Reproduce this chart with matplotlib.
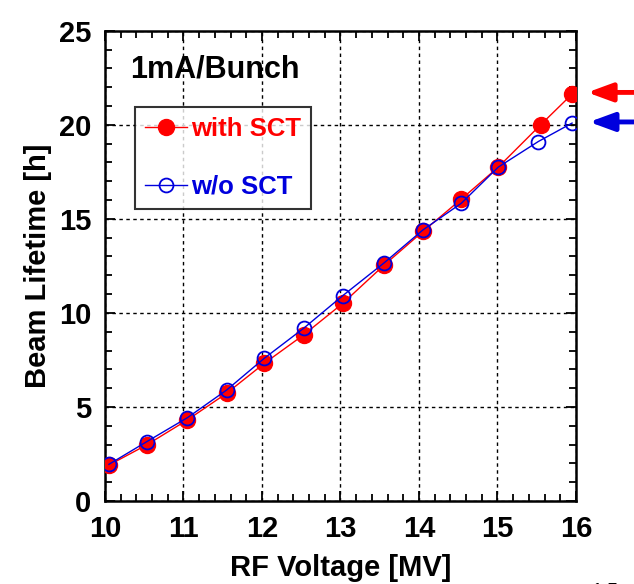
import numpy as np
import matplotlib
matplotlib.use("Agg")
import matplotlib.pyplot as plt
from matplotlib.ticker import MultipleLocator

plt.rcParams['font.family'] = ['Liberation Sans', 'DejaVu Sans']
plt.rcParams['font.weight'] = 'bold'

# RF voltage [MV]
v_with = [10.05, 10.53, 11.05, 11.55, 12.03, 12.53, 13.03, 13.55, 14.05, 14.54, 15.01, 15.55, 15.95]
v_wo = [10.05, 10.53, 11.05, 11.55, 12.03, 12.53, 13.03, 13.55, 14.05, 14.54, 15.01, 15.52, 15.95]
# beam lifetime [h]
life_with = [1.91, 2.98, 4.31, 5.73, 7.32, 8.83, 10.51, 12.52, 14.33, 16.05, 17.75, 20.0, 21.63]
life_wo = [1.95, 3.15, 4.43, 5.90, 7.59, 9.18, 10.92, 12.64, 14.41, 15.83, 17.75, 19.11, 20.09]

fig = plt.figure(figsize=(6.34, 5.84), dpi=100)
ax = fig.add_axes([0.1656, 0.1421, 0.7429, 0.8053])

ax.plot(v_with, life_with, '-o', color='#ff0000', lw=1.0, ms=11.5,
        mfc='#ff0000', mec='#ff0000', label='with SCT', zorder=3)
ax.plot(v_wo, life_wo, '-o', color='#0000dd', lw=1.0, ms=10,
        mfc='none', mec='#0000dd', mew=1.3, label='w/o SCT', zorder=4)

ax.set_xlim(10, 16)
ax.set_ylim(0, 25)
ax.xaxis.set_major_locator(MultipleLocator(1))
ax.xaxis.set_minor_locator(MultipleLocator(0.2))
ax.yaxis.set_major_locator(MultipleLocator(5))
ax.yaxis.set_minor_locator(MultipleLocator(1))
ax.tick_params(which='both', direction='in', top=True, right=True, width=1.3,
               labelsize=21, pad=10)
ax.tick_params(which='major', length=7)
ax.tick_params(which='minor', length=5)
for s in ax.spines.values():
    s.set_linewidth(1.8)
ax.grid(True, which='major', color='black', linestyle=(0, (2.5, 2.5)), lw=1.0)

ax.set_xlabel('RF Voltage [MV]', fontsize=21, fontweight='bold', labelpad=8)
ax.set_ylabel('Beam Lifetime [h]', fontsize=21, fontweight='bold', labelpad=5)

ax.text(0.053, 0.917, '1mA/Bunch', transform=ax.transAxes, fontsize=22,
        fontweight='bold', va='center', ha='left')

leg = ax.legend(loc='upper left', bbox_to_anchor=(0.063, 0.838), fontsize=18.5,
                frameon=True, fancybox=False, shadow=False, edgecolor='black',
                handlelength=1.65, handletextpad=0.15, labelspacing=1.3,
                borderpad=0.4, borderaxespad=0)
leg.get_frame().set_linewidth(1.5)
for t, c in zip(leg.get_texts(), ['#ff0000', '#0000dd']):
    t.set_color(c)
    t.set_fontweight('bold')

# arrows on the right
ax.annotate('', xy=(1.024, 21.72), xycoords=('axes fraction', 'data'),
            xytext=(1.16, 21.72), textcoords=('axes fraction', 'data'),
            arrowprops=dict(arrowstyle='-|>,head_length=1.5,head_width=0.55',
                            color='#ff0000', lw=3.5, shrinkA=0, shrinkB=0),
            annotation_clip=False)
ax.annotate('', xy=(1.028, 20.15), xycoords=('axes fraction', 'data'),
            xytext=(1.16, 20.15), textcoords=('axes fraction', 'data'),
            arrowprops=dict(arrowstyle='-|>,head_length=1.5,head_width=0.55',
                            color='#0000dd', lw=3.5, shrinkA=0, shrinkB=0),
            annotation_clip=False)

fig.text(0.955, -0.012, '1.5', fontsize=14, ha='center', va='center',
         fontweight='normal')

fig.savefig('out.png', dpi=100)
